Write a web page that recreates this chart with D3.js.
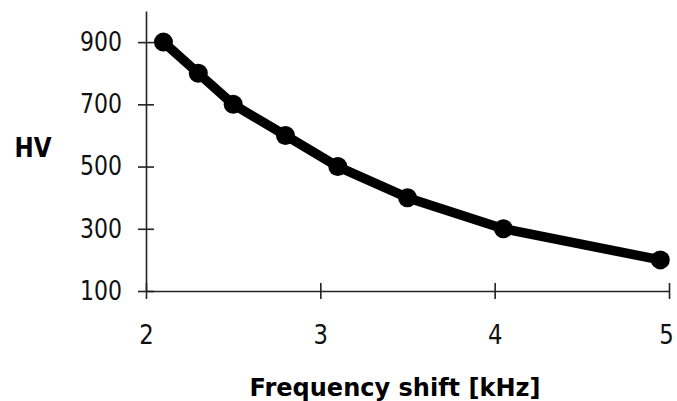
<!DOCTYPE html>
<html>
<head>
<meta charset="utf-8">
<script src="https://cdn.jsdelivr.net/npm/d3@7"></script>
<style>
  body { margin: 0; background: #fff; }
  svg { display: block; }
  .tick text { font-family: "DejaVu Sans", Verdana, sans-serif; }
</style>
</head>
<body>
<div id="chart"></div>
<script>
// Data
const freqShift = [2.1, 2.3, 2.5, 2.8, 3.1, 3.5, 4.05, 4.95];
const hvValues = [900, 800, 700, 600, 500, 400, 300, 200];
const xTicks = [2, 3, 4, 5];
const yTicks = [100, 300, 500, 700, 900];

const width = 677, height = 401;

const svg = d3.select("#chart").append("svg")
  .attr("width", width)
  .attr("height", height);

// Scales
const x = d3.scaleLinear().domain([2, 5]).range([146, 669]);
const y = d3.scaleLinear().domain([100, 1000]).range([291, 11]);

const fontFamily = '"DejaVu Sans", Verdana, sans-serif';

// the source glyphs are tall and narrow, so squeeze them a bit
function squeeze(sel, perChar) {
  sel.attr("textLength", function() { return this.textContent.length * perChar; })
     .attr("lengthAdjust", "spacingAndGlyphs");
}

// Y axis (ticks cross the axis line)
const yAxis = svg.append("g")
  .attr("transform", `translate(${x(2)},0)`)
  .call(d3.axisLeft(y).tickValues(yTicks).tickSize(8).tickPadding(16).tickSizeOuter(0));
yAxis.selectAll(".tick line").attr("x1", 8);
yAxis.selectAll(".tick text").style("font-size", "26px").attr("fill", "#111").call(squeeze, 14);

// X axis
const xAxis = svg.append("g")
  .attr("transform", `translate(0,${y(100)})`)
  .call(d3.axisBottom(x).tickValues(xTicks).tickFormat(d3.format("d")).tickSize(8).tickPadding(27).tickSizeOuter(0));
xAxis.selectAll(".tick line").attr("y1", -8);
xAxis.selectAll(".tick text").style("font-size", "26px").attr("fill", "#111").call(squeeze, 14.5);
// last label sits right at the edge, pull it in a touch
xAxis.selectAll(".tick text").filter(d => d === 5).attr("x", -3);

svg.selectAll(".domain, .tick line")
  .attr("stroke", "#222")
  .attr("stroke-width", 1.6);

// Data line
const points = freqShift.map((f, i) => [f, hvValues[i]]);

svg.append("path")
  .datum(points)
  .attr("fill", "none")
  .attr("stroke", "#000")
  .attr("stroke-width", 9.5)
  .attr("stroke-linejoin", "round")
  .attr("d", d3.line().x(d => x(d[0])).y(d => y(d[1])));

svg.append("g")
  .selectAll("circle")
  .data(points)
  .enter()
  .append("circle")
  .attr("cx", d => x(d[0]))
  .attr("cy", d => y(d[1]))
  .attr("r", 9.5)
  .attr("fill", "#000");

// Axis titles
svg.append("text")
  .attr("x", 33)
  .attr("y", 157)
  .attr("text-anchor", "middle")
  .attr("textLength", 37)
  .attr("lengthAdjust", "spacingAndGlyphs")
  .style("font-family", fontFamily)
  .style("font-size", "26px")
  .style("font-weight", "bold")
  .text("HV");

svg.append("text")
  .attr("x", 395)
  .attr("y", 396)
  .attr("text-anchor", "middle")
  .attr("textLength", 291)
  .attr("lengthAdjust", "spacingAndGlyphs")
  .style("font-family", fontFamily)
  .style("font-size", "24px")
  .style("font-weight", "bold")
  .text("Frequency shift [kHz]");
</script>
</body>
</html>
